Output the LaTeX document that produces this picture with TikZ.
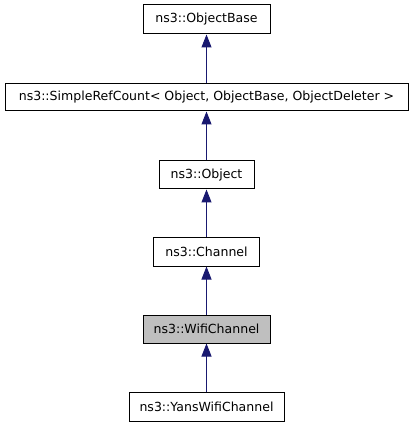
\documentclass[tikz,border=0pt]{standalone}
\usepackage{fontspec}
\setmainfont{DejaVu Sans}
\usetikzlibrary{arrows.meta}
\definecolor{edgeblue}{HTML}{191970}
\definecolor{hlgray}{HTML}{BFBFBF}
\begin{document}
\begin{tikzpicture}[x=0.75pt,y=-0.75pt,
  cls/.style={draw=black,line width=0.75pt,fill=white,inner sep=0pt,font=\fontsize{9.4pt}{11pt}\selectfont,anchor=center},
  inh/.style={draw=edgeblue,line width=0.75pt,-{Triangle[length=9.75pt,width=7.5pt]}}]
\useasboundingbox (0,0) rectangle (413,427);
\fill[white] (0,0) rectangle (413,427);
\node[cls,minimum width=127*0.75pt,minimum height=29*0.75pt] (base) at (206.5,19.5) {ns3::ObjectBase};
\node[cls,minimum width=403*0.75pt,minimum height=27*0.75pt] (ref) at (206.5,97.5) {ns3::SimpleRefCount< Object, ObjectBase, ObjectDeleter >};
\node[cls,minimum width=95*0.75pt,minimum height=28*0.75pt] (obj) at (206.5,175) {ns3::Object};
\node[cls,minimum width=106*0.75pt,minimum height=29*0.75pt] (chan) at (206.5,251.5) {ns3::Channel};
\node[cls,fill=hlgray,minimum width=127*0.75pt,minimum height=28*0.75pt] (wifi) at (206.5,329) {ns3::WifiChannel};
\node[cls,minimum width=155*0.75pt,minimum height=29*0.75pt] (yans) at (206.5,406.5) {ns3::YansWifiChannel};
\draw[inh] (ref) -- (base);
\draw[inh] (obj) -- (ref);
\draw[inh] (chan) -- (obj);
\draw[inh] (wifi) -- (chan);
\draw[inh] (yans) -- (wifi);
\end{tikzpicture}
\end{document}
